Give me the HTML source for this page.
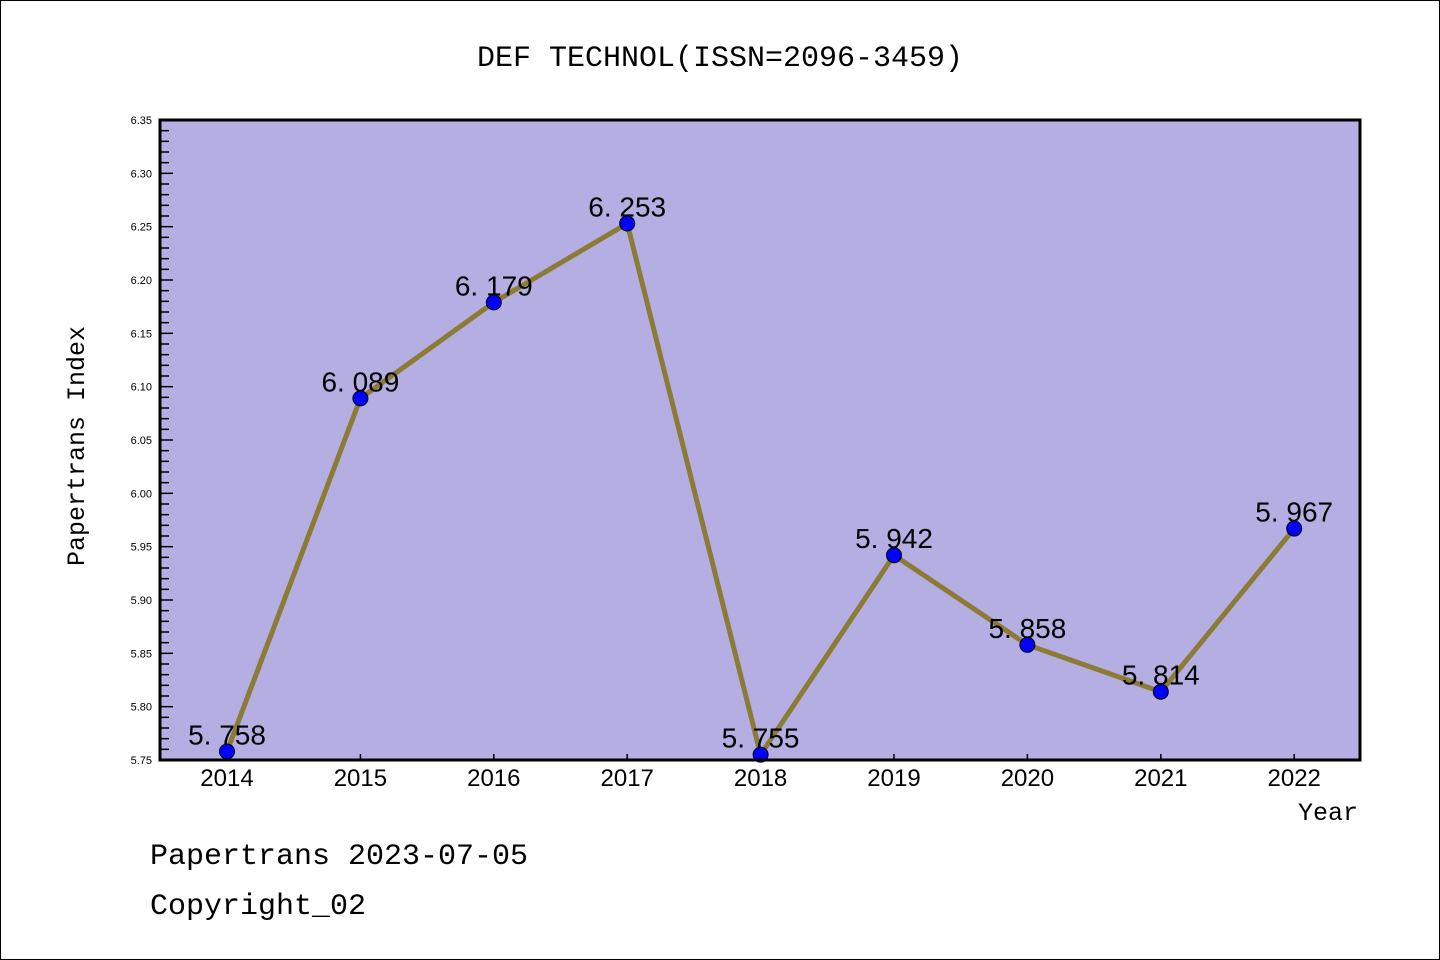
<!DOCTYPE html>
<html><head><meta charset="utf-8"><style>
body{margin:0;background:#fff;}
svg{display:block;font-family:"Liberation Mono","Noto Sans CJK SC",monospace;}
</style></head><body>
<svg id="chart" width="1440" height="960">
<rect x="0.5" y="0.5" width="1439" height="959" fill="#fff" stroke="#000"/>
<text x="720" y="66" font-size="30" text-anchor="middle">DEF TECHNOL(ISSN=2096-3459)</text>
<rect x="160" y="120" width="1200" height="640" fill="#b4aee2"/>
<g id="axes"></g>
<g id="series"></g>
<rect x="160" y="120" width="1200" height="640" fill="none" stroke="#000" stroke-width="3"/>
<text x="84" y="446" font-size="25" text-anchor="middle" transform="rotate(-90 84 446)">Papertrans Index</text>
<text x="1358" y="820" font-size="25" text-anchor="end">Year</text>
<text x="150" y="864" font-size="30">Papertrans 2023-07-05</text>
<text x="150" y="914" font-size="30">Copyright_02</text>
</svg>
<script>
const years = ["2014","2015","2016","2017","2018","2019","2020","2021","2022"];
const values = [5.758, 6.089, 6.179, 6.253, 5.755, 5.942, 5.858, 5.814, 5.967];
const yTicks = ["5.75","5.80","5.85","5.90","5.95","6.00","6.05","6.10","6.15","6.20","6.25","6.30","6.35"];
const NS="http://www.w3.org/2000/svg";
const yMin=5.75,yMax=6.35,plotTop=120,plotBot=760;
function yS(v){return plotBot-(v-yMin)/(yMax-yMin)*(plotBot-plotTop);}
function xS(i){return 227+i*133.4;}
function mk(t,a,p){const e=document.createElementNS(NS,t);for(const k in a)e.setAttribute(k,a[k]);p.appendChild(e);return e;}
const ax=document.getElementById('axes'),sr=document.getElementById('series');
for(let k=0;k<=60;k++){const v=yMin+k*0.01;const y=yS(v);const maj=k%5===0;
 const t=mk('line',{x1:160,x2:maj?173:169,y1:y,y2:y,stroke:'#000','stroke-width':1.5},ax);
 
 }
yTicks.forEach(s=>{const y=yS(parseFloat(s));const t=mk('text',{x:152,y:y+4,'font-size':11,'text-anchor':'end','font-family':'Liberation Sans, sans-serif'},ax);t.textContent=s;
 
 });
years.forEach((yr,i)=>{const x=xS(i);
 const t=mk('line',{x1:x,x2:x,y1:760,y2:754,stroke:'#000','stroke-width':1.5},ax);
 
 
 const l=mk('text',{x:x,y:786,'font-size':24,'text-anchor':'middle','font-family':'Liberation Sans, sans-serif'},ax);l.textContent=yr;
 
 });
const pts=values.map((v,i)=>xS(i)+','+yS(v)).join(' ');
const pl=mk('polyline',{points:pts,fill:'none',stroke:'#8c7b34','stroke-width':5},sr);


values.forEach((v,i)=>{const c=mk('circle',{cx:xS(i),cy:yS(v),r:7.5,fill:'#0000ff',stroke:'#000','stroke-width':1},sr);
 
 
 const t=mk('text',{x:xS(i),y:yS(v)-7,'font-size':28,'text-anchor':'middle','font-family':'Liberation Sans, sans-serif'},sr);t.textContent=v.toFixed(3).replace('.','. ');
 
 });
</script>
</body></html>
